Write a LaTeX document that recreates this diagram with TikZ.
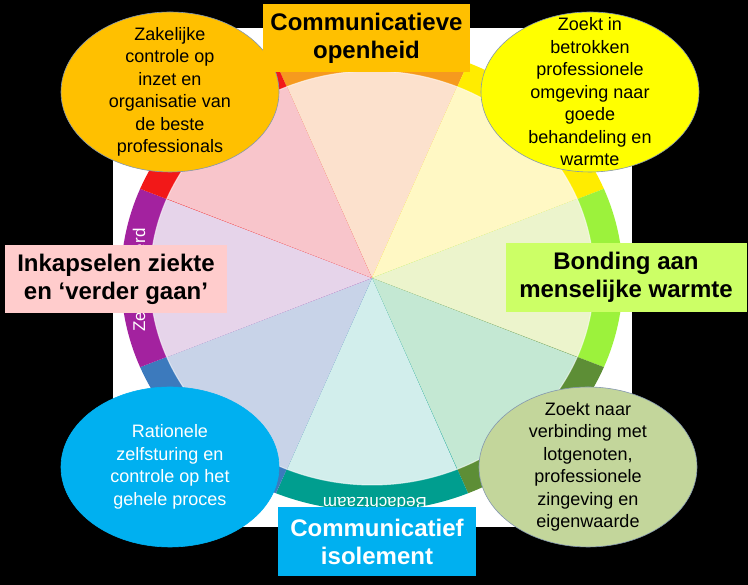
\documentclass[tikz,border=0pt]{standalone}
\usepackage{fontspec}
\setmainfont{Liberation Sans}
\usepackage{xcolor}
\usetikzlibrary{shapes, positioning}

\definecolor{ringorange}{HTML}{F69A1E}
\definecolor{ringyellow}{HTML}{FFEC00}
\definecolor{ringlime}{HTML}{9CF23C}
\definecolor{ringolive}{HTML}{5D8E36}
\definecolor{ringteal}{HTML}{009E8F}
\definecolor{ringblue}{HTML}{3C7ABD}
\definecolor{ringpurple}{HTML}{A3229F}
\definecolor{ringred}{HTML}{F21818}
\definecolor{softpeach}{HTML}{FCE1CD}
\definecolor{softyellow}{HTML}{FFF8C4}
\definecolor{softlime}{HTML}{ECF4CC}
\definecolor{softmint}{HTML}{C4E8D3}
\definecolor{softcyan}{HTML}{D2EEEC}
\definecolor{softblue}{HTML}{C8D3E8}
\definecolor{softlilac}{HTML}{E6D4EA}
\definecolor{softrose}{HTML}{F8C5CB}
\definecolor{headorange}{HTML}{FFC000}
\definecolor{headpink}{HTML}{FFCCCC}
\definecolor{headgreen}{HTML}{CCFF66}
\definecolor{headblue}{HTML}{00B0F0}
\definecolor{bubbleorange}{HTML}{FFC000}
\definecolor{bubbleyellow}{HTML}{FFFF00}
\definecolor{bubbleblue}{HTML}{00B0F0}
\definecolor{bubblegreen}{HTML}{C3D69B}
\definecolor{bubbleline}{HTML}{8497B0}

\begin{document}
\begin{tikzpicture}[x=1pt, y=1pt,
    headbox/.style={font=\bfseries\fontsize{24}{28}\selectfont, align=center, inner sep=0pt},
    bubble/.style={ellipse, draw=bubbleline, line width=0.6pt, minimum width=218pt, minimum height=160pt, inner sep=0pt},
    bubbletext/.style={align=center, inner sep=0pt, font=\fontsize{18}{22.5}\selectfont},
    ringtext/.style={text=white, font=\fontsize{17}{18}\selectfont, inner sep=0pt}]
      \useasboundingbox (0,0) rectangle (748,585);
      \fill[black] (0,0) rectangle (748,585);
      \fill[white] (113,58) rectangle (632,557);
      \coordinate (wheel) at (372,307);

      \foreach \a/\ring/\soft in {90/ringorange/softpeach, 45/ringyellow/softyellow, 0/ringlime/softlime,
          -45/ringolive/softmint, -90/ringteal/softcyan, -135/ringblue/softblue,
          180/ringpurple/softlilac, 135/ringred/softrose} {
        \fill[\ring] (wheel) -- +({\a-22.5}:251pt and 233pt)
          arc[start angle=\a-22.5, end angle=\a+22.5, x radius=251pt, y radius=233pt] -- cycle;
        \fill[\soft] (wheel) -- +({\a-22.5}:222pt and 207pt)
          arc[start angle=\a-22.5, end angle=\a+22.5, x radius=222pt, y radius=207pt] -- cycle;
      }
      \draw[white, opacity=0.6, line width=1pt] (wheel) ellipse[x radius=222pt, y radius=207pt];

      \node[ringtext, rotate=90, anchor=base] at (145,305) (zelfword) {Zelfverzekerd};
      \node[ringtext, rotate=180, anchor=base] at (375,87) (bedachtword) {Bedachtzaam};

      \node[bubble, fill=bubbleorange] at (170,493) (zakelijk) {};
      \node[bubbletext] at (zakelijk) {Zakelijke\\controle op\\inzet en\\organisatie van\\de beste\\professionals};
      \node[bubble, fill=bubbleyellow] at (590,493) (zoektin) {};
      \node[bubbletext] at (zoektin) {Zoekt in\\betrokken\\professionele\\omgeving naar\\goede\\behandeling en\\warmte};
      \node[bubble, fill=bubbleblue, draw=bubbleblue] at (170,118) (rationeel) {};
      \node[bubbletext, text=white] at (rationeel) {Rationele\\zelfsturing en\\controle op het\\gehele proces};
      \node[bubble, fill=bubblegreen] at (588,118) (zoektnaar) {};
      \node[bubbletext] at (zoektnaar) {Zoekt naar\\verbinding met\\lotgenoten,\\professionele\\zingeving en\\eigenwaarde};

      \node[headbox, fill=headorange, minimum width=207pt, minimum height=68pt] at (366.5,547) (openheid) {Communicatieve\\openheid};
      \node[headbox, fill=headpink, minimum width=222pt, minimum height=68pt] at (116,306) (inkapselen) {Inkapselen ziekte\\en ‘verder gaan’};
      \node[headbox, fill=headgreen, minimum width=241pt, minimum height=69pt] at (626,307.5) (bonding) {Bonding aan\\menselijke warmte};
      \node[headbox, fill=headblue, text=white, minimum width=198pt, minimum height=69pt] at (377,43.5) (isolement) {Communicatief\\isolement};
    \end{tikzpicture}
\end{document}
